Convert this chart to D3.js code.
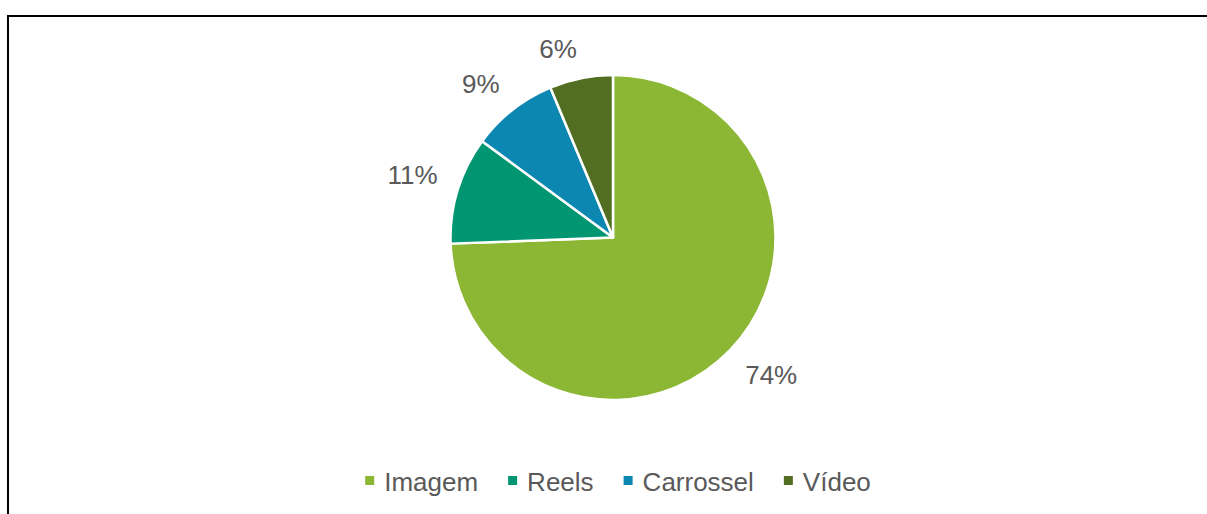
<!DOCTYPE html>
<html>
<head>
<meta charset="utf-8">
<script src="https://cdn.jsdelivr.net/npm/d3@7"></script>
<style>
  body { margin: 0; background: #fff; }
  text { font-family: "Liberation Sans", Arial, sans-serif; }
</style>
</head>
<body>
<svg id="chart" width="1207" height="514"></svg>
<script>
var categories = ["Imagem", "Reels", "Carrossel", "Vídeo"];
var values = [74.4, 10.7, 8.6, 6.3];
var labels = ["74%", "11%", "9%", "6%"];
var colors = ["#8bb734", "#009672", "#0b87b2", "#526f21"];

var svg = d3.select("#chart")
    , cx = 613
    , cy = 237.5
    , radius = 162.5
    , fontSize = 26
    ;

// frame (right and bottom edges fall outside the picture)
svg.append("rect")
    .attr("x", 8).attr("y", 16)
    .attr("width", 1300).attr("height", 600)
    .attr("fill", "none")
    .attr("stroke", "#000")
    .attr("stroke-width", 2);

var pie = d3.pie().sort(null).value(function(d) { return d; });
var arcs = pie(values);

var arc = d3.arc().innerRadius(0).outerRadius(radius);

var g = svg.append("g").attr("transform", "translate(" + cx + "," + cy + ")");

g.selectAll("path.slice")
    .data(arcs)
    .enter().append("path")
    .attr("class", "slice")
    .attr("d", arc)
    .attr("fill", function(d, i) { return colors[i]; })
    .attr("stroke", "#fff")
    .attr("stroke-width", 2.5)
    .attr("stroke-linejoin", "round");

// outside-end labels: nearest corner of the text box sits on the mid-angle ray
var pad = 21;
g.selectAll("text.lbl")
    .data(arcs)
    .enter().append("text")
    .attr("class", "lbl")
    .attr("font-size", fontSize)
    .attr("fill", "#595959")
    .attr("text-anchor", "middle")
    .text(function(d, i) { return labels[i]; })
    .each(function(d) {
        var a = (d.startAngle + d.endAngle) / 2
            , s = Math.sin(a)
            , c = -Math.cos(a)
            , w = this.getComputedTextLength()
            , h = fontSize * 0.72
            , r = radius + pad
            , x = s * r + Math.sign(s) * w / 2
            , y = c * r + Math.sign(c) * h / 2;
        d3.select(this)
            .attr("x", x)
            .attr("y", y + h / 2);
    });

// legend
var legend = svg.append("g").attr("class", "legend");
var item = legend.selectAll("g")
    .data(categories)
    .enter().append("g");

item.append("rect")
    .attr("width", 9).attr("height", 9)
    .attr("y", -15)
    .attr("fill", function(d, i) { return colors[i]; });

item.append("text")
    .attr("x", 19)
    .attr("font-size", fontSize)
    .attr("fill", "#595959")
    .text(function(d) { return d; });

var xpos = 0;
item.each(function() {
    var w = d3.select(this).select("text").node().getComputedTextLength();
    d3.select(this).attr("transform", "translate(" + xpos + ",0)");
    xpos += 19 + w + 30;
});
var total = xpos - 30;
legend.attr("transform", "translate(" + (618 - total / 2) + ",491)");
</script>
</body>
</html>
